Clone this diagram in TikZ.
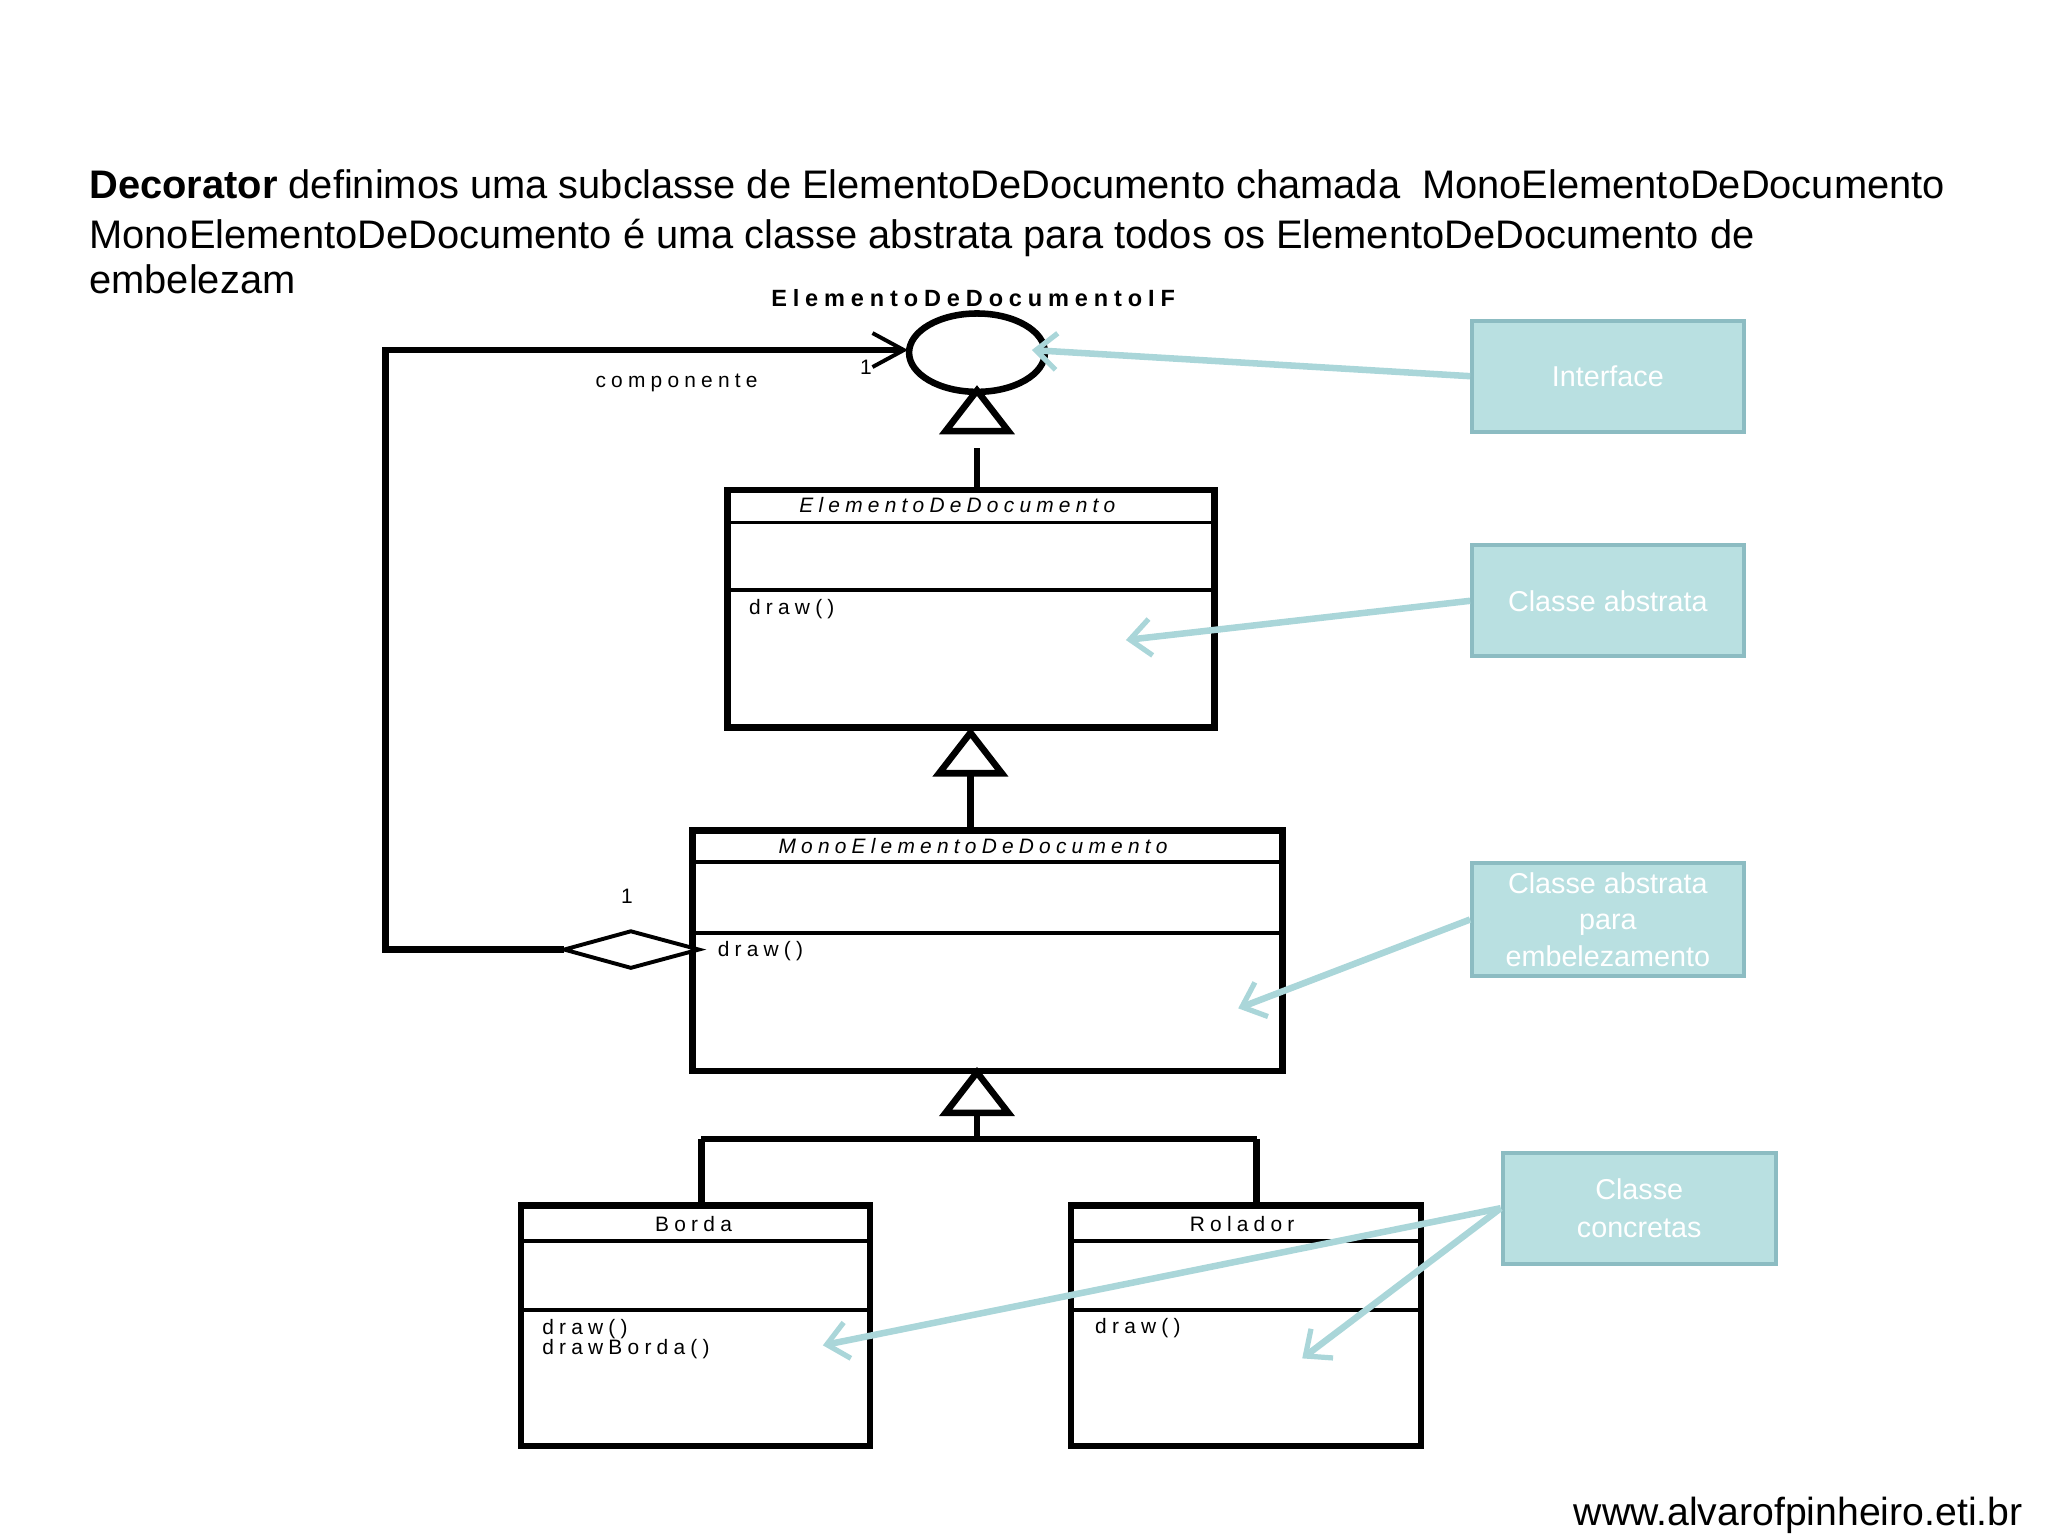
\documentclass[tikz,border=0pt]{standalone}
\usepackage{fontspec}
\setmainfont{Liberation Sans}
\newfontfamily\umlf[LetterSpace=25]{Liberation Sans}
\usetikzlibrary{arrows.meta}
\definecolor{notefill}{RGB}{185,224,225}
\definecolor{notedraw}{RGB}{140,188,194}
\definecolor{pntc}{RGB}{170,214,217}
\begin{document}
\begin{tikzpicture}[x=1pt,y=-1pt,
  uml/.style={line width=5pt,draw=black},
  thin/.style={line width=3pt,draw=black},
  note/.style={draw=notedraw,line width=3pt,fill=notefill,text=white,font=\fontsize{22}{26}\selectfont,align=center},
  pnt/.style={draw=pntc,line width=5pt,-{Straight Barb[length=16pt,width=28pt,line width=4pt]}},
  small/.style={font=\umlf\fontsize{16}{18}\selectfont},
  tri/.style={line width=5pt,draw=black,fill=white}]
\useasboundingbox (0,0) rectangle (1568,1176);
% title
\node[anchor=base west,font=\fontsize{30.5}{34}\selectfont] (t1) at (65,152) {\textbf{Decorator} definimos uma subclasse de ElementoDeDocumento chamada\ \ MonoElementoDeDocumento};
\node[anchor=base west,font=\fontsize{30.5}{34}\selectfont] (t2) at (65,190) {MonoElementoDeDocumento é uma classe abstrata para todos os ElementoDeDocumento de};
\node[anchor=base west,font=\fontsize{30.5}{34}\selectfont] (t3) at (65,225) {embelezam};
% interface
\node[font=\umlf\bfseries\fontsize{18}{20}\selectfont] (ifl) at (745,228) {ElementoDeDocumentoIF};
\draw[uml] (748,270) ellipse (52 and 30);
\draw[tri] (748,299) -- (772,330) -- (724,330) -- cycle;
\draw[uml] (748,343) -- (748,375);
% ElementoDeDocumento
\draw[uml] (557,375) rectangle (930,557);
\draw[thin] (557,400) -- (930,400) (557,452) -- (930,452);
\node[font=\umlf\itshape\fontsize{16}{18}\selectfont] (e1) at (733,387) {ElementoDeDocumento};
\node[small,anchor=west] (e2) at (570,466) {draw()};
% inheritance
\draw[uml] (743,592) -- (743,636);
\draw[tri] (743,561) -- (767,592) -- (719,592) -- cycle;
% Mono
\draw[uml] (530,636) rectangle (982,820);
\draw[thin] (530,660) -- (982,660) (530,714) -- (982,714);
\node[font=\umlf\itshape\fontsize{16}{18}\selectfont] (m1) at (745,648) {MonoElementoDeDocumento};
\node[small,anchor=west] (m2) at (546,728) {draw()};
% aggregation loop
\draw[uml] (432,727) -- (295,727) -- (295,268) -- (690,268);
\draw[thin] (668,255) -- (692,268) -- (668,281);
\draw[thin,fill=white] (432,727) -- (483,713) -- (535,727) -- (483,741) -- cycle;
\node[small] (n1) at (663,281) {1};
\node[small] (n2) at (480,686) {1};
\node[small] (cp) at (518,293) {componente};
% lower inheritance
\draw[uml] (748,852) -- (748,872);
\draw[uml] (537,872) -- (962,872);
\draw[uml] (537,872) -- (537,923) (962,872) -- (962,923);
\draw[tri] (748,821) -- (772,852) -- (724,852) -- cycle;
% Borda
\draw[uml] (399,923) rectangle (666,1107);
\draw[thin] (399,950) -- (666,950) (399,1003) -- (666,1003);
\node[small] (b1) at (531,937) {Borda};
\node[anchor=north west,align=left,inner sep=0pt,font=\umlf\fontsize{16}{15}\selectfont] (b2) at (415,1010) {draw()\\drawBorda()};
% Rolador
\draw[uml] (820,923) rectangle (1088,1107);
\draw[thin] (820,950) -- (1088,950) (820,1003) -- (1088,1003);
\node[small] (r1) at (951,937) {Rolador};
\node[small,anchor=west] (r2) at (835,1017) {draw()};
% notes
\node[note,minimum width=208pt,minimum height=85pt] (ni) at (1231,288) {Interface};
\node[note,minimum width=208pt,minimum height=85pt] (na) at (1231,460) {Classe abstrata};
\node[note,minimum width=208pt,minimum height=86pt,font=\fontsize{22}{28}\selectfont] (ne) at (1231,704) {Classe abstrata\\para\\embelezamento};
\node[note,minimum width=209pt,minimum height=85pt,font=\fontsize{22}{29}\selectfont] (nc) at (1255,925) {Classe\\concretas};
\coordinate (pa) at (862,490);
\coordinate (pe) at (948,772);
\coordinate (pb) at (630,1030);
\coordinate (pr) at (997,1040);
\coordinate (pi) at (790,268);
\draw[pnt] (ni.west) -- (pi);
\draw[pnt] (na.west) -- (pa);
\draw[pnt] (ne.west) -- (pe);
\draw[pnt] (nc.west) -- (pb);
\draw[pnt] (nc.west) -- (pr);
% footer
\node[anchor=base east,font=\fontsize{30}{33}\selectfont] (ft) at (1552,1168) {www.alvarofpinheiro.eti.br};
\end{tikzpicture}
\end{document}
